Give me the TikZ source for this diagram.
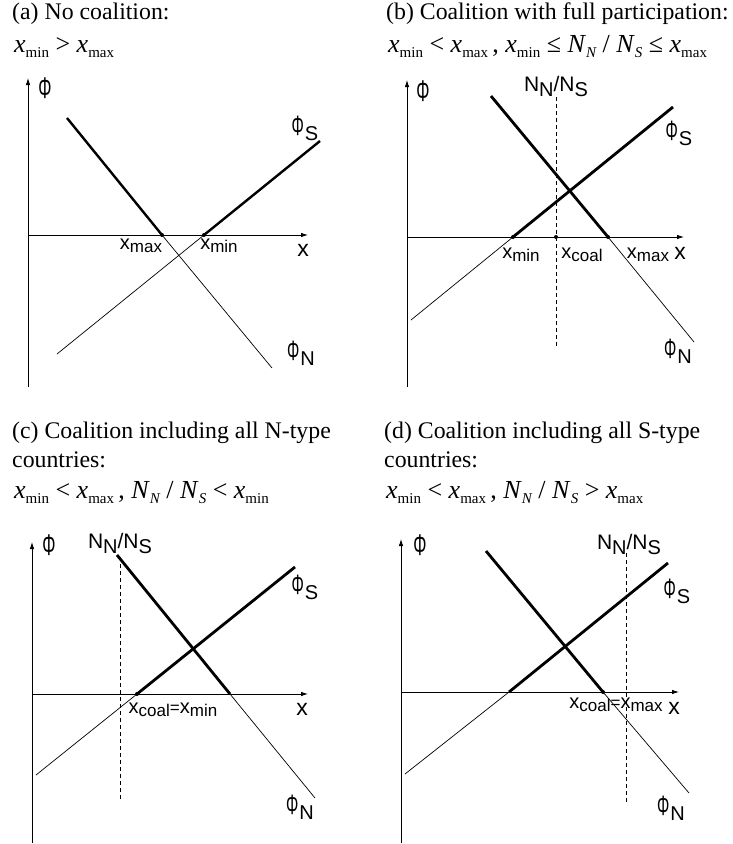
\documentclass[tikz,border=0pt]{standalone}
\usepackage{fontspec}
\usepackage{graphicx}
\setmainfont{Liberation Serif}
\newfontfamily\lsans{Liberation Sans}
\usetikzlibrary{arrows.meta}
\newcommand{\fs}[1]{\fontsize{#1}{#1}\selectfont}
\newcommand{\PhiG}{\scalebox{0.55}[1]{Φ}}
\newcommand{\Ph}{{\fs{30}\PhiG}}
\newcommand{\PhS}{{\fs{28}\PhiG}\kern1pt\raisebox{-5pt}{\fs{20}S}}
\newcommand{\PhN}{{\fs{28}\PhiG}\kern1pt\raisebox{-5pt}{\fs{20}N}}
\newcommand{\xl}[1]{{\fs{20}x}\raisebox{-3pt}{\fs{17}#1}}
\newcommand{\NNS}{{\fs{21}N}\raisebox{-5pt}{\fs{20}N}{\fs{21}/N}\raisebox{-5pt}{\fs{20}S}}
\newcommand{\xv}[1]{\textit{x}\raisebox{-5pt}{\fs{15}#1}}
\newcommand{\Nv}[1]{\textit{N}\raisebox{-5pt}{\fs{15}\itshape #1}}
\tikzset{
  axis/.style={line width=0.8pt, -{Latex[length=7pt,width=4.5pt]}},
  thinln/.style={line width=0.7pt},
  thickln/.style={line width=2.8pt},
  ratio/.style={line width=0.6pt, dash pattern=on 3.5pt off 3.5pt},
  ptdot/.style={circle, fill, inner sep=0pt, minimum size=4pt},
  lab/.style={font=\lsans, inner sep=0pt},
  title/.style={font=\fontsize{23.8}{29}\selectfont, anchor=base west, inner sep=0pt, align=left},
  cond/.style={font=\fs{26}, anchor=base west, inner sep=0pt},
}
\begin{document}
\begin{tikzpicture}[x=1pt,y=-1pt]
\useasboundingbox (0,0) rectangle (732,844);

% ---------- titles ----------
\node[title] (ta) at (12,19) {(a) No coalition:};
\node[cond] (ca) at (14,52) {\xv{min} > \xv{max}};
\node[title] (tb) at (386,19) {(b) Coalition with full participation:};
\node[cond] (cb) at (388,52) {\xv{min} < \xv{max}\,, \xv{min} ≤ \Nv{N} / \Nv{S} ≤ \xv{max}};
\node[title] (tc) at (12,467) {(c) Coalition including all N-type\\countries:};
\node[cond] (cc) at (14,498) {\xv{min} < \xv{max}\,, \Nv{N} / \Nv{S} < \xv{min}};
\node[title] (td) at (384,467) {(d) Coalition including all S-type\\countries:};
\node[cond] (cd) at (386,498) {\xv{min} < \xv{max}\,, \Nv{N} / \Nv{S} > \xv{max}};

% ---------- panel (a) ----------
\coordinate (aO) at (28,387); \coordinate (aYt) at (28,78);
\coordinate (aXl) at (28,235); \coordinate (aXr) at (308,235);
\draw[axis] (aO) -- (aYt);
\draw[axis] (aXl) -- (aXr);
\coordinate (aN0) at (67,118); \node[ptdot] (aNx) at (162,235) {}; \coordinate (aN2) at (272,368);
\coordinate (aS0) at (57,354); \node[ptdot] (aSx) at (204,235) {}; \coordinate (aS2) at (320,141);
\draw[thickln, line width=2.4pt] (aN0) -- (aNx.center);
\draw[thinln] (aNx.center) -- (aN2);
\draw[thinln] (aS0) -- (aSx.center);
\draw[thickln, line width=2.4pt] (aSx.center) -- (aS2);
\node[lab] (aPhi) at (45,88) {\Ph};
\node[lab] (aX) at (303,250) {\fs{23}x};
\node[lab] (aXmax) at (141,246) {\xl{max}};
\node[lab] (aXmin) at (219,246) {\xl{min}};
\node[lab] (aPS) at (305,128) {\PhS};
\node[lab] (aPN) at (301,353) {\PhN};

% ---------- panel (b) ----------
\coordinate (bO) at (407,387); \coordinate (bYt) at (407,80);
\coordinate (bXl) at (407,237); \coordinate (bXr) at (684,237);
\draw[axis] (bO) -- (bYt);
\draw[axis] (bXl) -- (bXr);
\coordinate (bD0) at (556,97); \coordinate (bD1) at (556,347);
\draw[ratio] (bD0) -- (bD1);
\coordinate (bN0) at (491,96); \node[ptdot] (bNx) at (608,237) {}; \coordinate (bN2) at (694,342);
\coordinate (bS0) at (411,320); \node[ptdot] (bSx) at (513,237) {}; \coordinate (bS2) at (673,107);
\node[ptdot] (bCx) at (556,237) {};
\draw[thickln] (bN0) -- (bNx.center);
\draw[thinln] (bNx.center) -- (bN2);
\draw[thinln] (bS0) -- (bSx.center);
\draw[thickln] (bSx.center) -- (bS2);
\node[lab] (bPhi) at (423,91) {\Ph};
\node[lab] (bNNS) at (556,86) {\NNS};
\node[lab] (bX) at (680,253) {\fs{23}x};
\node[lab] (bXmin) at (521,255) {\xl{min}};
\node[lab] (bXcoal) at (582,255) {\xl{coal}};
\node[lab] (bXmax) at (648,255) {\xl{max}};
\node[lab] (bPS) at (679,133) {\PhS};
\node[lab] (bPN) at (678,351) {\PhN};

% ---------- panel (c) ----------
\coordinate (cO) at (32,843); \coordinate (cYt) at (32,542);
\coordinate (cXl) at (32,694); \coordinate (cXr) at (308,694);
\draw[axis] (cO) -- (cYt);
\draw[axis] (cXl) -- (cXr);
\coordinate (cD0) at (120,557); \coordinate (cD1) at (120,802);
\draw[ratio] (cD0) -- (cD1);
\coordinate (cN0) at (117,555); \coordinate (cNx) at (230,694); \coordinate (cN2) at (315,798);
\coordinate (cS0) at (36,775); \node[ptdot] (cSx) at (137,694) {}; \coordinate (cS2) at (295,567);
\draw[thickln] (cN0) -- (cNx);
\draw[thinln] (cNx) -- (cN2);
\draw[thinln] (cS0) -- (cSx.center);
\draw[thickln] (cSx.center) -- (cS2);
\node[lab] (cPhi) at (49,545) {\Ph};
\node[lab] (cNNS) at (120,543) {\NNS};
\node[lab] (cX) at (302,709) {\fs{23}x};
\node[lab] (cXc) at (173,710) {\xl{coal}{\fs{17}=}\xl{min}};
\node[lab] (cPS) at (305,587) {\PhS};
\node[lab] (cPN) at (300,807) {\PhN};

% ---------- panel (d) ----------
\coordinate (dO) at (401,843); \coordinate (dYt) at (401,539);
\coordinate (dXl) at (401,692); \coordinate (dXr) at (679,692);
\draw[axis] (dO) -- (dYt);
\draw[axis] (dXl) -- (dXr);
\coordinate (dD0) at (626,553); \coordinate (dD1) at (626,802);
\draw[ratio] (dD0) -- (dD1);
\coordinate (dN0) at (486,551); \node[ptdot] (dNx) at (603,692) {}; \coordinate (dN2) at (689,793);
\coordinate (dS0) at (405,774); \coordinate (dSx) at (509,692); \coordinate (dS2) at (668,563);
\draw[thickln] (dN0) -- (dNx.center);
\draw[thinln] (dNx.center) -- (dN2);
\draw[thinln] (dS0) -- (dSx);
\draw[thickln] (dSx) -- (dS2);
\node[lab] (dPhi) at (420,545) {\Ph};
\node[lab] (dNNS) at (629,544) {\NNS};
\node[lab] (dX) at (674,708) {\fs{23}x};
\node[lab] (dXc) at (616,705) {\xl{coal}{\fs{17}=}\xl{max}};
\node[lab] (dPS) at (677,591) {\PhS};
\node[lab] (dPN) at (671,808) {\PhN};
\end{tikzpicture}
\end{document}
